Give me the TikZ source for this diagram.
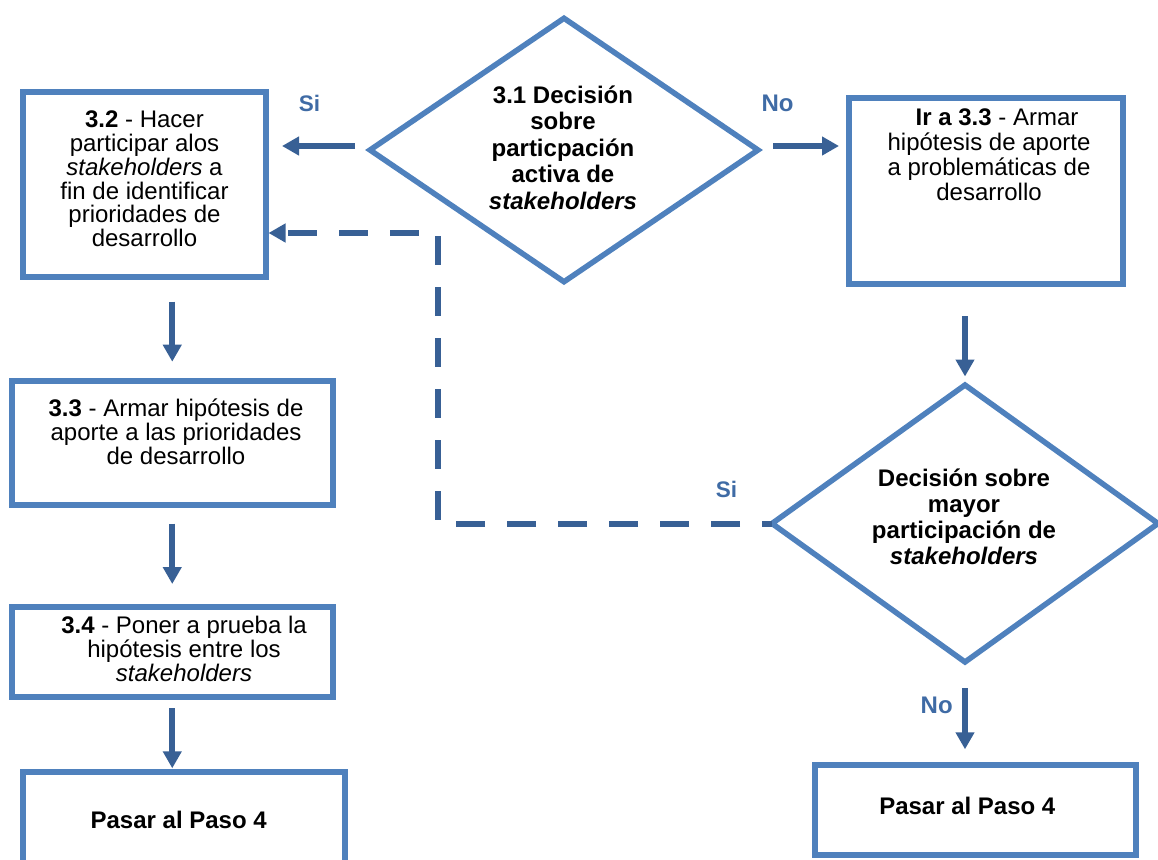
\documentclass[tikz,border=0pt]{standalone}
\usepackage{fontspec}
\setmainfont{Liberation Sans}
\usetikzlibrary{shapes.geometric,arrows.meta}
\definecolor{boxblue}{HTML}{4F81BD}
\definecolor{arrowblue}{HTML}{386095}
\definecolor{labelblue}{HTML}{3F6BA5}
\begin{document}
\begin{tikzpicture}[x=1pt,y=-1pt,
  box/.style={draw=boxblue, line width=6pt, rectangle, inner sep=0pt, outer sep=0pt},
  decision/.style={draw=boxblue, line width=5.5pt, diamond, inner sep=0pt, outer sep=0pt},
  txt/.style={inner sep=0pt, align=center, font=\fontsize{24}{24.2}\selectfont},
  dtxt/.style={inner sep=0pt, align=center, font=\fontsize{24}{26.5}\selectfont\bfseries},
  lbl/.style={inner sep=0pt, text=labelblue, font=\fontsize{24}{24}\selectfont\bfseries},
  arr/.style={draw=arrowblue, line width=6pt, -{Triangle[length=17pt,width=18pt]}},
  dasharr/.style={arr, dash pattern=on 29pt off 22pt, dash phase=19pt},
]
\useasboundingbox (0,0) rectangle (1158,859);

% decisions
\node[decision, minimum width=388pt, minimum height=263.5pt] (d1) at (564,150) {};
\node[dtxt] (d1t) at (563,147.5) {3.1 Decisión\\sobre\\particpación\\activa de\\\textit{stakeholders}};

\node[decision, minimum width=386pt, minimum height=277pt] (d2) at (965,523.5) {};
\node[dtxt, font=\fontsize{24}{26.1}\selectfont\bfseries] (d2t) at (964,517) {Decisión sobre\\mayor\\participación de\\\textit{stakeholders}};

% process boxes, left column
\node[box, minimum width=243pt, minimum height=185pt] (b32) at (144.5,184.5) {};
\node[txt, font=\fontsize{24}{23.8}\selectfont] (b32t) at (144.5,178.9) {\textbf{3.2} - Hacer\\participar alos\\\textit{stakeholders} a\\fin de identificar\\prioridades de\\desarrollo};

\node[box, minimum width=321.5pt, minimum height=124pt] (b33) at (172.25,442.5) {};
\node[txt] (b33t) at (176,432) {\textbf{3.3} - Armar hipótesis de\\aporte a las prioridades\\de desarrollo};

\node[box, minimum width=321.5pt, minimum height=89.5pt] (b34) at (172.25,651.75) {};
\node[txt] (b34t) at (184,649) {\textbf{3.4} - Poner a prueba la\\hipótesis entre los\\\textit{stakeholders}};

\node[box, minimum width=321.5pt, minimum height=108pt] (pL) at (183.75,826) {};
\node[txt] (pLt) at (178.7,819.7) {\textbf{Pasar al Paso 4}};

% process boxes, right column
\node[box, minimum width=274pt, minimum height=186pt] (bIr) at (986,191) {};
\node[txt, font=\fontsize{24}{24.9}\selectfont] (bIrt) at (989,154.7) {\hspace*{16pt}\textbf{Ir a 3.3} - Armar\\hipótesis de aporte\\a problemáticas de\\desarrollo};

\node[box, minimum width=321.6pt, minimum height=90pt] (pR) at (975.5,810.3) {};
\node[txt] (pRt) at (967.3,806) {\textbf{Pasar al Paso 4}};

% branch labels
\node[lbl, font=\fontsize{22.5}{24}\selectfont\bfseries] (lsi1) at (309.5,103.5) {Si};
\node[lbl] (lno1) at (777.5,103) {No};
\node[lbl, font=\fontsize{22.5}{24}\selectfont\bfseries] (lsi2) at (726.5,489) {Si};
\node[lbl] (lno2) at (936.7,705) {No};

% connectors
\coordinate (siY) at ([yshift=4pt]d1.west);
\coordinate (noY) at ([yshift=4pt]d1.east);
\coordinate (bend) at (438,233);

\draw[arr, shorten <=15pt, shorten >=16pt] (siY) -- (siY -| b32.east);
\draw[arr, shorten <=15pt, shorten >=10pt] (noY) -- (noY -| bIr.west);
\draw[arr, shorten <=24.7pt, shorten >=18.8pt] (b32.south -| b33.north) -- (b33.north);
\draw[arr, shorten <=19pt, shorten >=23pt] (b33.south) -- (b34.north);
\draw[arr, shorten <=11.5pt, shorten >=3.7pt] (b34.south) -- (b34.south |- pL.north);
\draw[arr, shorten <=32pt, shorten >=8.5pt] (bIr.south -| d2.north) -- (d2.north);
\draw[arr, shorten <=26pt, shorten >=16pt] (d2.south) -- (d2.south |- pR.north);
\draw[dasharr, shorten >=2.5pt] (d2.west) -- (d2.west -| bend) -- (bend) -- (bend -| b32.east);
\end{tikzpicture}
\end{document}
